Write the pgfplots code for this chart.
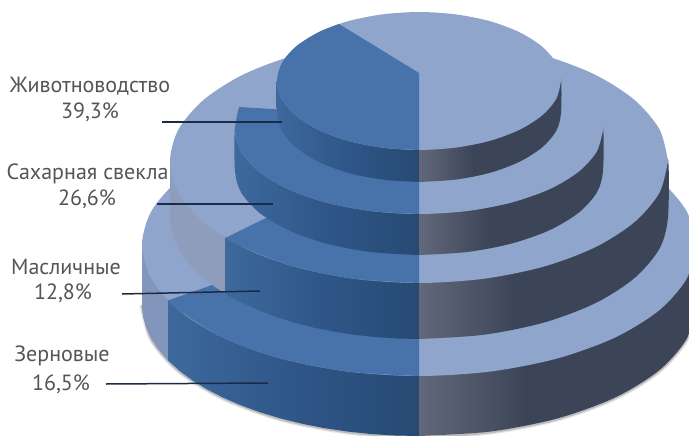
\documentclass[border=0pt]{standalone}
\usepackage{pgfplots}
\pgfplotsset{compat=1.18}
\usepackage{fontspec}
\setmainfont{PT Sans}
\definecolor{lightT}{HTML}{8FA5CB}
\definecolor{blueT}{HTML}{4773AA}
\definecolor{greyA}{HTML}{8E9DBC}
\definecolor{greyB}{HTML}{8296BB}
\definecolor{leader}{HTML}{1A2B48}
\definecolor{txt}{HTML}{555555}
\definecolor{dA}{HTML}{626879}
\definecolor{dB}{HTML}{3C4558}
\definecolor{bA}{HTML}{3D699D}
\definecolor{bB}{HTML}{2F5688}
\definecolor{bC}{HTML}{264A73}
\pgfdeclarehorizontalshading{darkside}{100bp}{color(0bp)=(dA); color(25bp)=(dA); color(44bp)=(dB); color(100bp)=(dB)}
\pgfdeclarehorizontalshading{blueside}{100bp}{color(0bp)=(bA); color(25bp)=(bA); color(50bp)=(bB); color(75bp)=(bC); color(100bp)=(bC)}
\begin{document}
\begin{tikzpicture}
\begin{axis}[scale only axis,width=689bp,height=436bp,xmin=0,xmax=689,ymin=0,ymax=436,y dir=reverse,hide axis,enlargelimits=false,clip=true]
\path (axis cs:0,0) rectangle (axis cs:689,436);
% soft shadow under the lowest tier
\addplot[draw=black,opacity=.10,line width=5bp,smooth] coordinates {(142,305)(151.4,339)(179.1,371)(223.1,398)(280.5,419)(347.3,432)(419,437)(490.7,432)(557.5,419)(614.9,398)(658.9,371)(686.6,339)(696,305)};
\addplot[draw=black,opacity=.18,line width=2.5bp,smooth] coordinates {(142,305)(151.4,339)(179.1,371)(223.1,398)(280.5,419)(347.3,432)(419,437)(490.7,432)(557.5,419)(614.9,398)(658.9,371)(686.6,339)(696,305)};
% tier 4
\addplot[draw=none,fill=greyB] coordinates {(168,298)(168,360.4)(158.7,349.8)(151.4,338.9)(146.2,327.7)(143,316.4)(142,305)(142,245)};
\addplot[draw=none,shading=blueside] coordinates {(168,298)(168,360.4)(179.1,370.5)(192.1,380.1)(206.8,389.2)(223.1,397.6)(241,405.3)(260.1,412.3)(280.5,418.4)(301.9,423.7)(324.3,428.1)(347.3,431.5)(370.9,434)(394.8,435.5)(419,436)(419,374)};
\addplot[draw=none,shading=darkside,smooth] coordinates {(419,374)(490.7,369.5)(557.5,356.4)(614.9,335.6)(658.9,308.5)(686.6,276.9)(696,243)(696,305)(686.6,338.9)(658.9,370.5)(614.9,397.6)(557.5,418.4)(490.7,431.5)(419,436)};
\addplot[draw=none,fill=lightT,smooth] coordinates {(696,245)(686.6,278.9)(658.9,310.5)(614.9,337.6)(557.5,358.4)(490.7,371.5)(419,376)(347.3,371.5)(280.5,358.4)(223.1,337.6)(179.1,310.5)(151.4,278.9)(142,245)(151.4,211.1)(179.1,179.5)(223.1,152.4)(280.5,131.6)(347.3,118.5)(419,114)(490.7,118.5)(557.5,131.6)(614.9,152.4)(658.9,179.5)(686.6,211.1)(696,245)};
\addplot[draw=none,fill=blueT,smooth] coordinates {(168,300.4)(179.1,310.5)(223.1,337.6)(280.5,358.4)(347.3,371.5)(419,376)};
\addplot[draw=none,fill=blueT] coordinates {(168,300.4)(215,284)(419,245)(419,376)(300,345)};
% tier 3
\addplot[draw=none,fill=greyA] coordinates {(226,236)(226,294.1)(215,287)(203.4,278)(193.3,268.6)(185,258.7)(178.5,248.6)(173.8,238.2)(171,227.6)(170,217)(170,161)};
\addplot[draw=none,shading=blueside] coordinates {(225,236)(225,294.1)(242.9,303.3)(259,310.5)(276.2,316.9)(294.5,322.7)(313.8,327.6)(333.8,331.6)(354.6,334.8)(375.8,337.1)(397.3,338.5)(419,339)(419,281)};
\addplot[draw=none,shading=darkside,smooth] coordinates {(419,281)(483.4,276.8)(543.5,264.7)(595.1,245.3)(634.6,220)(659.5,190.6)(668,159)(668,217)(659.5,248.6)(634.6,278)(595.1,303.3)(543.5,322.7)(483.4,334.8)(419,339)};
\addplot[draw=none,fill=lightT,smooth] coordinates {(668,161)(659.5,192.6)(634.6,222)(595.1,247.3)(543.5,266.7)(483.4,278.8)(419,283)(354.6,278.8)(294.5,266.7)(242.9,247.3)(203.4,222)(178.5,192.6)(170,161)(178.5,129.4)(203.4,100)(242.9,74.7)(294.5,55.3)(354.6,43.2)(419,39)(483.4,43.2)(543.5,55.3)(595.1,74.7)(634.6,100)(659.5,129.4)(668,161)};
\addplot[draw=none,fill=blueT,smooth] coordinates {(225,238.1)(242.9,247.3)(294.5,266.7)(354.6,278.8)(419,283)};
\addplot[draw=none,fill=blueT] coordinates {(225,238.1)(272,215)(419,161)(419,283)(320,265)};
% tier 2
\addplot[draw=none,shading=blueside,smooth] coordinates {(419,212)(371.4,209.1)(327,200.7)(288.9,187.4)(259.7,170)(241.3,149.7)(235,128)(235,171)(241.3,192.7)(259.7,213)(288.9,230.4)(327,243.7)(371.4,252.1)(419,255)};
\addplot[draw=none,shading=darkside,smooth] coordinates {(419,212)(466.6,209.1)(511,200.7)(549.1,187.4)(578.3,170)(596.7,149.7)(603,128)(603,171)(596.7,192.7)(578.3,213)(549.1,230.4)(511,243.7)(466.6,252.1)(419,255)};
\addplot[draw=none,fill=lightT,smooth] coordinates {(603,130)(596.7,151.7)(578.3,172)(549.1,189.4)(511,202.7)(466.6,211.1)(419,214)(371.4,211.1)(327,202.7)(288.9,189.4)(259.7,172)(241.3,151.7)(235,130)(241.3,108.3)(259.7,88)(288.9,70.6)(327,57.3)(371.4,48.9)(419,46)(466.6,48.9)(511,57.3)(549.1,70.6)(578.3,88)(596.7,108.3)(603,130)};
\addplot[draw=none,fill=blueT,smooth] coordinates {(239,107)(235,130)(241.3,151.7)(259.7,172)(288.9,189.4)(327,202.7)(371.4,211.1)(419,214)};
\addplot[draw=none,fill=blueT] coordinates {(239,107)(280,109.5)(419,130)(419,214)(300,170)};
% tier 1
\addplot[draw=none,shading=blueside,smooth] coordinates {(419,148)(382.2,145.6)(348,138.8)(318.6,127.8)(296,113.5)(281.8,96.9)(277,79)(277,113)(281.8,130.9)(296,147.5)(318.6,161.8)(348,172.8)(382.2,179.6)(419,182)};
\addplot[draw=none,shading=darkside,smooth] coordinates {(419,148)(455.8,145.6)(490,138.8)(519.4,127.8)(542,113.5)(556.2,96.9)(561,79)(561,113)(556.2,130.9)(542,147.5)(519.4,161.8)(490,172.8)(455.8,179.6)(419,182)};
\addplot[draw=none,fill=lightT,smooth] coordinates {(561,81)(556.2,98.9)(542,115.5)(519.4,129.8)(490,140.8)(455.8,147.6)(419,150)(382.2,147.6)(348,140.8)(318.6,129.8)(296,115.5)(281.8,98.9)(277,81)(281.8,63.1)(296,46.5)(318.6,32.2)(348,21.2)(382.2,14.4)(419,12)(455.8,14.4)(490,21.2)(519.4,32.2)(542,46.5)(556.2,63.1)(561,81)};
\addplot[draw=none,fill=blueT,smooth] coordinates {(339,24)(318.6,32.2)(296,46.5)(281.8,63.1)(277,81)(281.8,98.9)(296,115.5)(318.6,129.8)(348,140.8)(382.2,147.6)(419,150)};
\addplot[draw=none,fill=blueT] coordinates {(339,24)(419,73)(419,150)(330,90)};
% leader lines
\addplot[draw=leader,line width=1.7bp] coordinates {(162,122)(282,122)};
\addplot[draw=leader,line width=1.7bp] coordinates {(157,204)(273,204)};
\addplot[draw=leader,line width=1.5bp] coordinates {(122,294)(260,291)};
\addplot[draw=leader,line width=1.5bp] coordinates {(106,384)(268,383)};
% labels
\node[text=txt,font=\fontsize{22bp}{24bp}\selectfont] at (axis cs:90,86) {Животноводство};
\node[text=txt,font=\fontsize{22bp}{24bp}\selectfont] at (axis cs:90,112) {39,3\%};
\node[text=txt,font=\fontsize{22bp}{24bp}\selectfont] at (axis cs:87.5,174) {Сахарная свекла};
\node[text=txt,font=\fontsize{22bp}{24bp}\selectfont] at (axis cs:87,199) {26,6\%};
\node[text=txt,font=\fontsize{22bp}{24bp}\selectfont] at (axis cs:66,267) {Масличные};
\node[text=txt,font=\fontsize{22bp}{24bp}\selectfont] at (axis cs:63,293) {12,8\%};
\node[text=txt,font=\fontsize{22bp}{24bp}\selectfont] at (axis cs:62,356) {Зерновые};
\node[text=txt,font=\fontsize{22bp}{24bp}\selectfont] at (axis cs:61,384) {16,5\%};
\end{axis}
\end{tikzpicture}
\end{document}
